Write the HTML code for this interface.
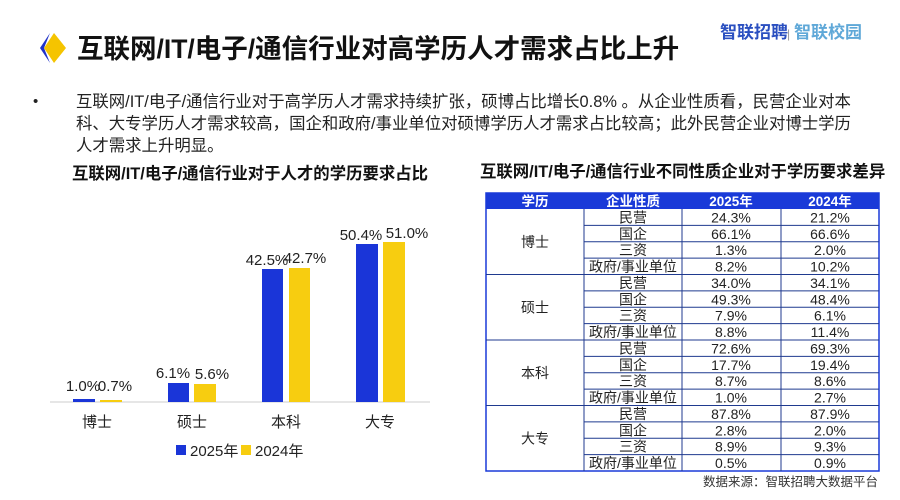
<!DOCTYPE html>
<html><head><meta charset="utf-8"><style>
html,body{margin:0;padding:0;background:#fff;}
svg{display:block;}
text{font-family:"Liberation Sans","Noto Sans CJK SC",sans-serif;}
</style></head><body>
<svg width="900" height="500" viewBox="0 0 900 500" xmlns="http://www.w3.org/2000/svg">
<rect width="900" height="500" fill="#fff"/>
<polygon points="50,33 40,48 50,63 44,48" fill="#2233c8"/>
<polygon points="54,33 66,48 54,63 44,48" fill="#f5c400"/>
<text x="77" y="58" font-size="26.5" font-weight="bold" fill="#111">互联网/IT/电子/通信行业对高学历人才需求占比上升</text>
<text x="720" y="38" font-size="17" font-weight="bold" fill="#2a4fc0">智联招聘</text>
<text x="787" y="38" font-size="12" fill="#999">|</text>
<text x="794" y="38" font-size="17" font-weight="bold" fill="#5fa8d8">智联校园</text>
<text x="33" y="106" font-size="15" fill="#222">•</text>
<text x="76" y="107" font-size="16.4" fill="#222">互联网/IT/电子/通信行业对于高学历人才需求持续扩张，硕博占比增长0.8% 。从企业性质看，民营企业对本</text>
<text x="76" y="129" font-size="16.4" fill="#222">科、大专学历人才需求较高，国企和政府/事业单位对硕博学历人才需求占比较高；此外民营企业对博士学历</text>
<text x="76" y="151" font-size="16.4" fill="#222">人才需求上升明显。</text>
<text x="72" y="179" font-size="16.4" font-weight="bold" fill="#111">互联网/IT/电子/通信行业对于人才的学历要求占比</text>
<line x1="50" y1="402" x2="430" y2="402" stroke="#ccc" stroke-width="1"/>
<g fill="#1a35d8">
<rect x="73" y="399" width="22" height="3"/>
<rect x="168" y="383" width="21" height="19"/>
<rect x="262" y="269" width="21" height="133"/>
<rect x="356" y="244" width="22" height="158"/>
</g>
<g fill="#f7cd10">
<rect x="100" y="400" width="22" height="2"/>
<rect x="194" y="384" width="22" height="18"/>
<rect x="289" y="268" width="21" height="134"/>
<rect x="383" y="242" width="22" height="160"/>
</g>
<g font-size="15" fill="#222" text-anchor="middle">
<text x="83" y="391">1.0%</text><text x="115" y="391">0.7%</text>
<text x="173" y="378">6.1%</text><text x="212" y="379">5.6%</text>
<text x="267" y="265">42.5%</text><text x="305" y="263">42.7%</text>
<text x="361" y="240">50.4%</text><text x="407" y="238">51.0%</text>
</g>
<g font-size="15" fill="#222" text-anchor="middle">
<text x="97" y="427">博士</text><text x="192" y="427">硕士</text>
<text x="286" y="427">本科</text><text x="380" y="427">大专</text>
</g>
<rect x="176" y="445" width="10" height="10" fill="#1a35d8"/>
<text x="190" y="456" font-size="15" fill="#222">2025年</text>
<rect x="241" y="445" width="10" height="10" fill="#f7cd10"/>
<text x="255" y="456" font-size="15" fill="#222">2024年</text>
<text x="480" y="177" font-size="16.4" font-weight="bold" fill="#111">互联网/IT/电子/通信行业不同性质企业对于学历要求差异</text>
<rect x="486" y="193" width="393" height="16" fill="#1a3ad8"/>
<g font-size="13.5" font-weight="bold" fill="#fff" text-anchor="middle">
<text x="535" y="206">学历</text><text x="633" y="206">企业性质</text>
<text x="731" y="206">2025年</text><text x="830" y="206">2024年</text>
</g>
<g stroke="#1f3a8f" stroke-width="1" fill="none">
<rect x="486" y="193" width="393" height="278" stroke="#1a3ad8" stroke-width="1.5"/>
<line x1="584" y1="209" x2="584" y2="471"/>
<line x1="682" y1="209" x2="682" y2="471"/>
<line x1="781" y1="209" x2="781" y2="471"/>
</g>
<g id="rows" font-size="14" fill="#222" text-anchor="middle"></g>
<text x="703" y="486" font-size="12.5" fill="#333">数据来源：智联招聘大数据平台</text>
</svg>
<script>
var ns="http://www.w3.org/2000/svg",svg=document.querySelector('svg'),g=document.getElementById('rows');
var groups=["博士","硕士","本科","大专"],types=["民营","国企","三资","政府/事业单位"];
var d=[["24.3%","21.2%"],["66.1%","66.6%"],["1.3%","2.0%"],["8.2%","10.2%"],["34.0%","34.1%"],["49.3%","48.4%"],["7.9%","6.1%"],["8.8%","11.4%"],["72.6%","69.3%"],["17.7%","19.4%"],["8.7%","8.6%"],["1.0%","2.7%"],["87.8%","87.9%"],["2.8%","2.0%"],["8.9%","9.3%"],["0.5%","0.9%"]];
var y0=209,h=262/16;
function t(x,y,s){var e=document.createElementNS(ns,'text');e.setAttribute('x',x);e.setAttribute('y',y);e.textContent=s;g.appendChild(e);}
function l(x1,y,x2){var e=document.createElementNS(ns,'line');e.setAttribute('x1',x1);e.setAttribute('x2',x2);e.setAttribute('y1',y);e.setAttribute('y2',y);e.setAttribute('stroke','#1f3a8f');svg.appendChild(e);}
for(var i=0;i<16;i++){var y=y0+i*h;
 if(i>0){l(i%4==0?486:584,y,879);}
 t(633,y+h-3,types[i%4]);t(731,y+h-3,d[i][0]);t(830,y+h-3,d[i][1]);
 if(i%4==0){t(535,y+2*h+5,groups[i/4]);}
}
</script>
</body></html>
